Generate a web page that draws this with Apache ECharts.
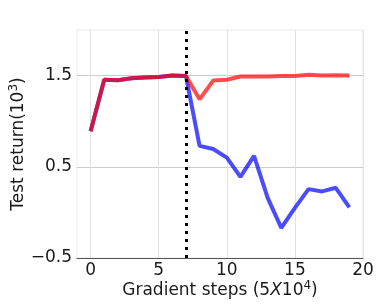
<!DOCTYPE html>
<html>
<head>
<meta charset="utf-8">
<script src="https://cdn.jsdelivr.net/npm/echarts@6/dist/echarts.min.js"></script>
<style>html,body{margin:0;padding:0;background:#fff;}#c{width:382px;height:304px;}</style>
</head>
<body>
<div id="c"></div>
<script>
const steps = [0,1,2,3,4,5,6,7,8,9,10,11,12,13,14,15,16,17,18,19];
const blueReturn = [0.89,1.455,1.45,1.47,1.48,1.485,1.50,1.495,0.73,0.695,0.60,0.39,0.62,0.16,-0.17,0.05,0.255,0.23,0.27,0.055];
const redReturn  = [0.89,1.455,1.45,1.47,1.48,1.485,1.50,1.495,1.24,1.445,1.455,1.49,1.49,1.49,1.495,1.495,1.51,1.50,1.505,1.50];
const yTickLabels = [-0.5, 0.5, 1.5];
const xTickLabels = [0, 5, 10, 15, 20];
const switchStep = 7;

const font = 'DejaVu Sans';
const fs = 17;
const chart = echarts.init(document.getElementById('c'), null, {renderer:'canvas'});
const pair = a => steps.map((s,i)=>[s,a[i]]);
chart.setOption({
  animation:false,
  grid:{left:77,right:19,top:30,bottom:46,containLabel:false,outerBoundsMode:'none',show:true,borderColor:'#ebebeb',borderWidth:1,backgroundColor:'transparent'},
  xAxis:{
    type:'value',min:-1,max:20,interval:1,
    name:'{t|Gradient steps (5}{i|X}{t|10}{s|4}{t|)}',
    nameLocation:'middle',nameGap:22,nameMoveOverlap:false,
    nameTextStyle:{rich:{
      t:{fontFamily:font,fontSize:fs,color:'#1a1a1a'},
      i:{fontFamily:font,fontSize:fs,color:'#1a1a1a',fontStyle:'italic'},
      s:{fontFamily:font,fontSize:12,color:'#1a1a1a',verticalAlign:'top',padding:[0,0,9,0]}
    }},
    axisLine:{show:true,onZero:false,lineStyle:{color:'#555',width:1.2}},
    axisTick:{show:false},
    axisLabel:{fontFamily:font,fontSize:fs,color:'#1a1a1a',margin:4,
      formatter:v=>xTickLabels.includes(v)?String(v):''},
    splitLine:{show:true,lineStyle:{color:['transparent','#e2e2e2','transparent','transparent','transparent'],width:1}}
  },
  yAxis:{
    type:'value',min:-0.5,max:2.0,interval:0.5,
    name:'{t|Test return(10}{s|3}{t|)}',
    nameLocation:'middle',nameGap:48,nameRotate:90,nameMoveOverlap:false,
    nameTextStyle:{rich:{
      t:{fontFamily:font,fontSize:fs,color:'#1a1a1a'},
      s:{fontFamily:font,fontSize:12,color:'#1a1a1a',verticalAlign:'top',padding:[0,0,9,0]}
    }},
    axisLine:{show:false},
    axisTick:{show:false},
    axisLabel:{fontFamily:font,fontSize:fs,color:'#1a1a1a',margin:5,
      formatter:v=>{const r=Math.round(v*10)/10;return yTickLabels.includes(r)?(r<0?'\u2212'+Math.abs(r):String(r)):'';}},
    splitLine:{show:true,lineStyle:{color:['transparent','transparent','#cccccc','transparent','#cccccc','transparent'],width:1}}
  },
  series:[
    {type:'line',data:pair(blueReturn),symbol:'none',z:2,
      lineStyle:{color:'#0000ff',width:4,opacity:0.7},
      markLine:{silent:true,symbol:'none',label:{show:false},
        lineStyle:{color:'#000',width:3,type:[3,5],opacity:1},
        data:[{xAxis:switchStep}]}},
    {type:'line',data:pair(redReturn),symbol:'none',z:3,
      lineStyle:{color:'#ff0000',width:4,opacity:0.7}}
  ]
});
</script>
</body>
</html>
